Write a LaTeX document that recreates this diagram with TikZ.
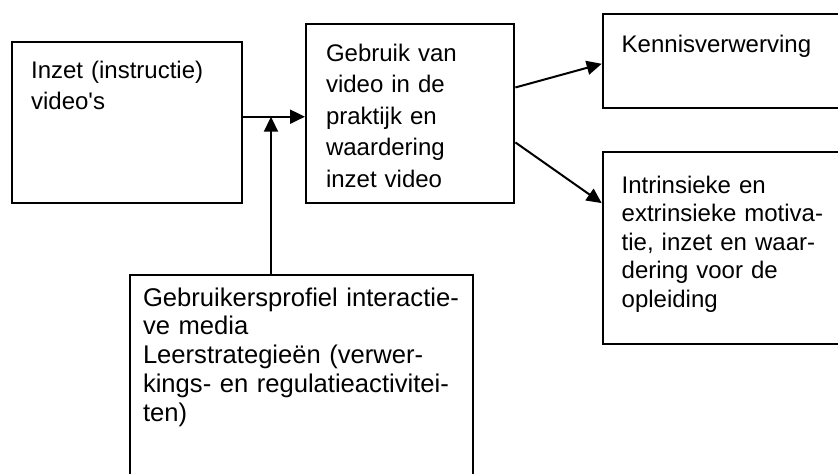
\documentclass[tikz,border=0pt]{standalone}
\usepackage{fontspec}
\setmainfont{Liberation Sans}
\usetikzlibrary{arrows.meta,calc}
\tikzset{>={Triangle[length=7.5pt,width=7pt]}}
\tikzset{
  box/.style={draw, line width=1pt, anchor=north west, inner ysep=0pt, align=left},
  wide/.style={font=\fontsize{12}{15.75}\selectfont},
  narrow/.style={font=\fontsize{12}{14.2}\selectfont},
  large/.style={font=\fontsize{12.8}{14.4}\selectfont},
  arr/.style={->, line width=1pt},
}

\begin{document}
\begin{tikzpicture}[x=0.5pt,y=-0.5pt]

  \clip (0,0) rectangle (838,473);

  % Nodes
  \node[box, wide, inner xsep=9.7pt, text width=95.8pt, text height=18.3pt, text depth=62.4pt] (inzet) at (10.7,40.7)
    {Inzet~(instructie)\\video\textquotesingle s};
  \node[box, wide, inner xsep=10pt, text width=84.2pt, text height=18.7pt, text depth=71pt] (gebruik) at (305,22.7)
    {Gebruik~van\\video~in~de\\praktijk~en\\waardering\\inzet~video};
  \node[box, wide, inner xsep=9.5pt, text width=102.7pt, text height=19.2pt, text depth=27.5pt] (kennis) at (601.7,13.3)
    {Kennisverwerving};
  \node[box, narrow, inner xsep=9.5pt, text width=102.7pt, text height=21pt, text depth=75.4pt] (motivatie) at (601.7,150.5)
    {Intrinsieke~en\\extrinsieke~motiva-\\tie,~inzet~en~waar-\\dering~voor~de\\opleiding};
  \node[box, large, inner xsep=6.5pt, text width=158.7pt, text height=15.5pt, text depth=90pt] (profiel) at (129,274)
    {Gebruikersprofiel~interactie-\\ve~media\\Leerstrategieën~(verwer-\\kings-~en~regulatieactivitei-\\ten)};
  \coordinate (join) at (271,116.7);

  % Edges
  \draw[arr] (inzet.east |- join) -- (gebruik.west |- join);
  \draw[arr] (profiel.north -| join) -- (join);
  \draw[arr] ($(gebruik.north east)!0.357!(gebruik.south east)$) -- ($(kennis.north west)!0.529!(kennis.south west)$);
  \draw[arr] ($(gebruik.north east)!0.66!(gebruik.south east)$) -- ($(motivatie.north west)!0.27!(motivatie.south west)$);

\end{tikzpicture}
\end{document}
